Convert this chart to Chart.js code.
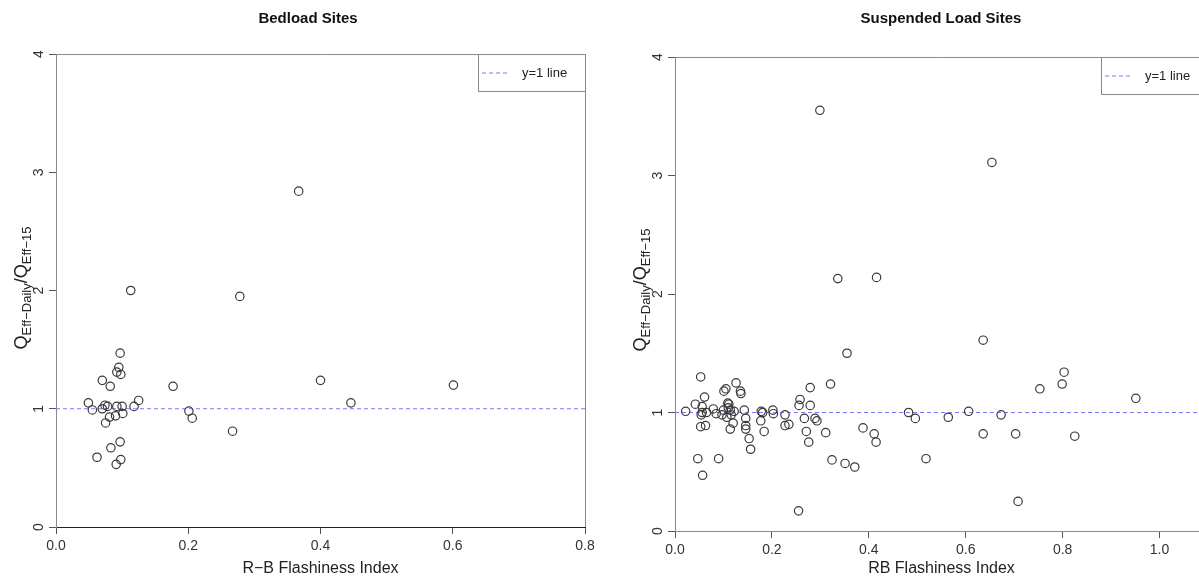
<!DOCTYPE html>
<html>
<head>
<meta charset="utf-8">
<script src="https://cdn.jsdelivr.net/npm/chart.js@4/dist/chart.umd.min.js"></script>
<style>
  html, body { margin: 0; padding: 0; background: #fff; overflow: hidden; width: 1199px; height: 578px; }
  .panel { position: absolute; top: 0; }
  #panelL { left: 0; width: 600px; height: 578px; }
  #panelR { left: 600px; width: 640px; height: 578px; }
</style>
</head>
<body>
<div class="panel" id="panelL"><canvas id="bedload" width="600" height="578"></canvas></div>
<div class="panel" id="panelR"><canvas id="suspended" width="640" height="578"></canvas></div>
<script>
// Richards-Baker flashiness index vs. ratio of effective discharge (daily / 15-minute)
const bedloadRB = [0.367, 0.278, 0.400, 0.446, 0.601, 0.267, 0.113, 0.097, 0.095, 0.092,
                   0.098, 0.070, 0.082, 0.177, 0.049, 0.055, 0.070, 0.074, 0.078, 0.092,
                   0.100, 0.118, 0.125, 0.201, 0.206, 0.081, 0.090, 0.101, 0.075, 0.097,
                   0.083, 0.062, 0.098, 0.091];
const bedloadRatio = [2.84, 1.95, 1.24, 1.05, 1.20, 0.81, 2.00, 1.47, 1.35, 1.31,
                      1.29, 1.24, 1.19, 1.19, 1.05, 0.99, 1.00, 1.03, 1.02, 1.02,
                      1.02, 1.02, 1.07, 0.98, 0.92, 0.93, 0.94, 0.96, 0.88, 0.72,
                      0.67, 0.59, 0.57, 0.53];

const suspendedRB = [0.299, 0.654, 0.336, 0.416, 0.355, 0.636, 0.803, 0.799, 0.753, 0.951,
                     0.482, 0.496, 0.564, 0.606, 0.673, 0.388, 0.411, 0.415, 0.636, 0.703,
                     0.825, 0.518, 0.371, 0.708, 0.255, 0.053, 0.126, 0.101, 0.105, 0.135,
                     0.136, 0.061, 0.279, 0.321, 0.258, 0.256, 0.279, 0.042, 0.056, 0.109,
                     0.111, 0.079, 0.100, 0.110, 0.114, 0.022, 0.056, 0.054, 0.065, 0.085,
                     0.097, 0.107, 0.116, 0.122, 0.143, 0.146, 0.178, 0.181, 0.202, 0.203,
                     0.227, 0.177, 0.053, 0.063, 0.114, 0.120, 0.146, 0.146, 0.184, 0.227,
                     0.235, 0.267, 0.289, 0.293, 0.271, 0.311, 0.276, 0.153, 0.156, 0.047,
                     0.090, 0.057, 0.324, 0.351];
const suspendedRatio = [3.55, 3.11, 2.13, 2.14, 1.50, 1.61, 1.34, 1.24, 1.20, 1.12,
                        1.00, 0.95, 0.96, 1.01, 0.98, 0.87, 0.82, 0.75, 0.82, 0.82,
                        0.80, 0.61, 0.54, 0.25, 0.17, 1.30, 1.25, 1.18, 1.20, 1.18,
                        1.16, 1.13, 1.21, 1.24, 1.11, 1.06, 1.06, 1.07, 1.05, 1.08,
                        1.07, 1.03, 1.02, 1.04, 1.02, 1.01, 1.00, 0.98, 1.00, 0.99,
                        0.98, 0.96, 0.98, 1.01, 1.02, 0.95, 1.01, 1.00, 1.02, 0.99,
                        0.98, 0.93, 0.88, 0.89, 0.86, 0.91, 0.89, 0.86, 0.84, 0.89,
                        0.90, 0.95, 0.95, 0.93, 0.84, 0.83, 0.75, 0.78, 0.69, 0.61,
                        0.61, 0.47, 0.60, 0.57];

const refLevel = 1;
const refLabel = 'y=1 line';
const yTicks = [0, 1, 2, 3, 4];
const bedloadXTicks = [0.0, 0.2, 0.4, 0.6, 0.8];
const suspendedXTicks = [0.0, 0.2, 0.4, 0.6, 0.8, 1.0];

const FONT = '"Liberation Sans", Arial, Helvetica, sans-serif';
const TEXT = '#222';

// Frame, title, y-axis title (with subscripts) and legend box
const decor = {
  id: 'decor',
  afterDraw(chart, args, o) {
    const { ctx, chartArea: a } = chart;
    ctx.save();
    // top and right sides of the plot box
    ctx.strokeStyle = '#8a8a8a';
    ctx.lineWidth = 1;
    ctx.beginPath();
    ctx.moveTo(a.left, a.top + 0.5);
    ctx.lineTo(a.right + 0.5, a.top + 0.5);
    ctx.lineTo(a.right + 0.5, a.bottom);
    ctx.stroke();

    // main title
    ctx.fillStyle = '#111';
    ctx.font = 'bold 15px ' + FONT;
    ctx.textAlign = 'center';
    ctx.textBaseline = 'middle';
    ctx.fillText(o.title, o.titleX, 19);

    // y axis title: Q_Eff-Daily / Q_Eff-15
    const parts = [
      { t: 'Q', big: true }, { t: 'Eff\u2212Daily', big: false },
      { t: '/', big: true },
      { t: 'Q', big: true }, { t: 'Eff\u221215', big: false }
    ];
    const bigF = '18px ' + FONT, smallF = '13px ' + FONT;
    let w = 0;
    parts.forEach(p => { ctx.font = p.big ? bigF : smallF; p.w = ctx.measureText(p.t).width; w += p.w; });
    ctx.translate(o.yTitleX, o.yTitleY);
    ctx.rotate(-Math.PI / 2);
    ctx.textAlign = 'left';
    ctx.textBaseline = 'alphabetic';
    ctx.fillStyle = TEXT;
    let x = -w / 2;
    parts.forEach(p => {
      ctx.font = p.big ? bigF : smallF;
      ctx.fillText(p.t, x, p.big ? 6 : 10);
      x += p.w;
    });
    ctx.setTransform(1, 0, 0, 1, 0, 0);

    // legend box at the top-right corner of the plot
    const lw = 107, lh = 37;
    const lx = a.right - lw, ly = a.top;
    ctx.strokeStyle = '#8a8a8a';
    ctx.strokeRect(lx + 0.5, ly + 0.5, lw, lh);
    ctx.strokeStyle = '#7a7aff';
    ctx.setLineDash([4, 3]);
    ctx.beginPath();
    ctx.moveTo(lx + 4, ly + lh / 2 + 0.5);
    ctx.lineTo(lx + 31, ly + lh / 2 + 0.5);
    ctx.stroke();
    ctx.setLineDash([]);
    ctx.fillStyle = TEXT;
    ctx.font = '13px ' + FONT;
    ctx.textAlign = 'left';
    ctx.textBaseline = 'middle';
    ctx.fillText(refLabel, lx + 44, ly + lh / 2 + 1);
    ctx.restore();
  }
};

function makePanel(id, xs, ys, xMax, xTicks, xTitle, sizes, opts) {
  const pts = xs.map((x, i) => ({ x: x, y: ys[i] }));
  return new Chart(document.getElementById(id), {
    type: 'scatter',
    data: {
      datasets: [
        {
          label: 'sites',
          data: pts,
          pointStyle: 'circle',
          pointRadius: 4.2,
          pointHoverRadius: 4.2,
          pointBorderWidth: 1.2,
          pointBorderColor: '#3a3a3a',
          pointBackgroundColor: 'rgba(0,0,0,0)'
        },
        {
          type: 'line',
          label: refLabel,
          data: [{ x: 0, y: refLevel }, { x: xMax, y: refLevel }],
          borderColor: '#7a7aff',
          borderWidth: 1,
          borderDash: [4, 3],
          pointRadius: 0,
          fill: false
        }
      ]
    },
    options: {
      responsive: false,
      animation: false,
      events: [],
      layout: { padding: { top: sizes.top, right: sizes.right, left: 0, bottom: 0 } },
      plugins: {
        legend: { display: false },
        tooltip: { enabled: false },
        decor: opts
      },
      scales: {
        x: {
          type: 'linear', min: 0, max: xMax,
          afterFit: s => { s.height = sizes.xh; },
          afterBuildTicks: s => { s.ticks = xTicks.map(v => ({ value: v })); },
          grid: { drawOnChartArea: false, drawTicks: true, tickLength: 7, tickColor: '#555' },
          border: { display: true, color: sizes.xBorder, width: 1 },
          ticks: { color: '#333', font: { size: 14, family: FONT }, padding: 4,
                   maxRotation: 0, callback: v => Number(v).toFixed(1) },
          title: { display: true, text: xTitle, color: TEXT,
                   font: { size: 16, family: FONT }, padding: { top: 0, bottom: 0 } }
        },
        y: {
          type: 'linear', min: 0, max: 4,
          afterFit: s => { s.width = sizes.yw; },
          afterBuildTicks: s => { s.ticks = yTicks.map(v => ({ value: v })); },
          grid: { drawOnChartArea: false, drawTicks: true, tickLength: 7, tickColor: '#555' },
          border: { display: true, color: '#8a8a8a', width: 1 },
          ticks: { color: '#333', font: { size: 14, family: FONT }, padding: 6,
                   minRotation: 90, maxRotation: 90, crossAlign: 'center',
                   callback: v => String(v) }
        }
      }
    },
    plugins: [decor]
  });
}

makePanel('bedload', bedloadRB, bedloadRatio, 0.8, bedloadXTicks, 'R\u2212B Flashiness Index',
  { top: 54, right: 15, yw: 56, xh: 51, xBorder: '#222' },
  { title: 'Bedload Sites', titleX: 308, yTitleX: 21, yTitleY: 288 });

makePanel('suspended', suspendedRB, suspendedRatio, 1.1, suspendedXTicks, 'RB Flashiness Index',
  { top: 57, right: 32, yw: 75, xh: 47, xBorder: '#8a8a8a' },
  { title: 'Suspended Load Sites', titleX: 341, yTitleX: 40, yTitleY: 290 });
</script>
</body>
</html>
